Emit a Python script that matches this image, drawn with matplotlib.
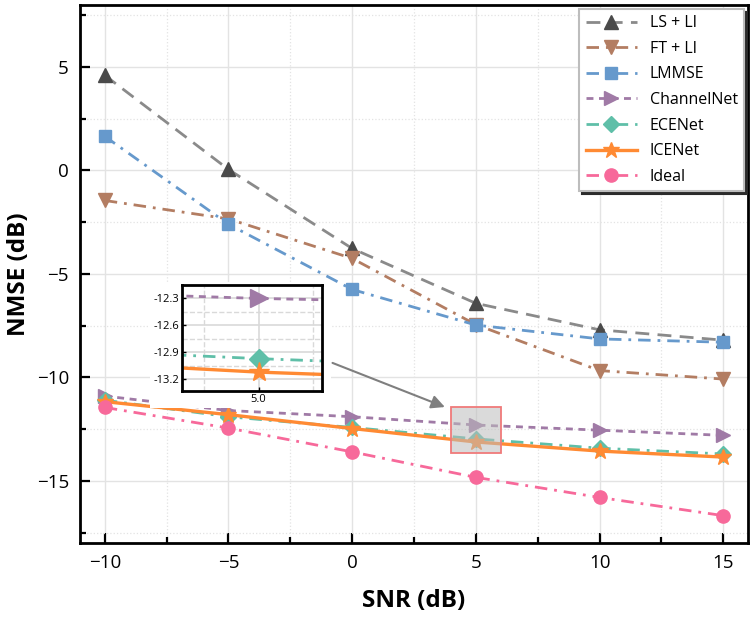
import matplotlib
matplotlib.use("Agg")
import matplotlib.pyplot as plt
from matplotlib.patches import Rectangle
from matplotlib.ticker import MultipleLocator

plt.rcParams['font.family'] = ['Open Sans', 'DejaVu Sans']
plt.rcParams['axes.unicode_minus'] = True

snr = [-10, -5, 0, 5, 10, 15]

ls_li = [4.6, 0.05, -3.77, -6.42, -7.7, -8.2]
ft_li = [-1.45, -2.34, -4.25, -7.45, -9.67, -10.08]
lmmse = [1.65, -2.6, -5.75, -7.47, -8.14, -8.3]
channelnet = [-10.9, -11.6, -11.9, -12.3, -12.55, -12.8]
ecenet = [-11.1, -11.9, -12.42, -12.97, -13.42, -13.7]
icenet = [-11.17, -11.8, -12.47, -13.12, -13.56, -13.85]
ideal = [-11.45, -12.45, -13.6, -14.83, -15.8, -16.68]

labels = ["LS + LI", "FT + LI", "LMMSE", "ChannelNet", "ECENet", "ICENet", "Ideal"]
series = [ls_li, ft_li, lmmse, channelnet, ecenet, icenet, ideal]

# style per curve: line colour, marker colour, marker, markersize, dash pattern, linewidth
styles = [
    ("#8a8a8a", "#4a4a4a", "^", 10, (5, 3), 2.0),
    ("#b37d62", "#b37d62", "v", 10, (4.5, 2.5, 1, 2.5), 2.0),
    ("#6699cc", "#6699cc", "s", 8.5, (4.5, 2.5, 1, 2.5), 2.0),
    ("#a07aa6", "#a07aa6", ">", 10, (2.5, 2), 2.0),
    ("#5fbfa8", "#5fbfa8", "D", 8.5, (4.5, 2.5, 1, 2.5), 2.0),
    ("#ff8a33", "#ff8a33", "*", 12, None, 2.4),
    ("#f7699a", "#f7699a", "o", 9.5, (4.5, 2.5, 1, 2.5), 2.0),
]


def draw_curves(ax, ms_scale=1.0):
    for y, lab, (lc, mc, mk, ms, dash, lw) in zip(series, labels, styles):
        kw = dict(color=lc, marker=mk, markersize=ms * ms_scale, markerfacecolor=mc,
                  markeredgecolor=mc, linewidth=lw, label=lab)
        if dash is None:
            kw['linestyle'] = '-'
        else:
            kw['dashes'] = dash
        ax.plot(snr, y, **kw)


fig = plt.figure(figsize=(7.55, 6.17), dpi=100)
ax = fig.add_axes([0.106, 0.12, 0.8848, 0.872])

draw_curves(ax)

ax.set_xlim(-11, 16)
ax.set_ylim(-18, 8)
ax.xaxis.set_major_locator(MultipleLocator(5))
ax.xaxis.set_minor_locator(MultipleLocator(2.5))
ax.yaxis.set_major_locator(MultipleLocator(5))
ax.yaxis.set_minor_locator(MultipleLocator(2.5))
ax.grid(True, which='major', color='#e3e3e3', linewidth=1.0, linestyle='-')
ax.grid(True, which='minor', color='#e3e3e3', linewidth=0.9, linestyle=':')
ax.set_axisbelow(True)
ax.tick_params(which='major', direction='in', length=7, width=1.6, labelsize=13.5, pad=8)
ax.tick_params(which='minor', direction='in', length=4, width=1.6)
for s in ax.spines.values():
    s.set_linewidth(2)

ax.set_xlabel("SNR (dB)", fontsize=17.5, fontweight='bold', labelpad=12)
ax.set_ylabel("NMSE (dB)", fontsize=17.5, fontweight='bold', labelpad=4)

leg = ax.legend(loc='upper right', fontsize=11.5, handlelength=3.2, borderaxespad=0.25,
                labelspacing=0.6, fancybox=False, framealpha=1,
                shadow={'color': '#2b2b2b', 'alpha': 1.0})
leg.get_frame().set_edgecolor('#bdbdbd')
leg.get_frame().set_linewidth(1.5)
leg.set_zorder(6)

# zoom box and arrow
ax.add_patch(Rectangle((4.0, -13.65), 2.0, 2.2, facecolor='#bdbdbd', alpha=0.55,
                       edgecolor='none', zorder=3.5))
ax.add_patch(Rectangle((4.0, -13.65), 2.0, 2.2, facecolor='none',
                       edgecolor='#f07a7a', linewidth=1.3, zorder=3.6))
ax.annotate("", xy=(3.85, -11.48), xytext=(-0.9, -9.25),
            arrowprops=dict(arrowstyle='-|>', color='#7f7f7f', lw=1.5,
                            mutation_scale=20), zorder=3.6)

# white backing behind the inset (covers its tick labels too)
ax.add_patch(Rectangle((0.105, 0.25), 0.27, 0.235, transform=ax.transAxes,
                       facecolor='white', edgecolor='none', zorder=4.5))

axin = ax.inset_axes([0.1527, 0.2825, 0.2096, 0.197])
axin.set_zorder(5)
draw_curves(axin, ms_scale=1.25)
axin.set_xlim(4.65, 5.29)
axin.set_ylim(-13.33, -12.15)
axin.xaxis.set_major_locator(MultipleLocator(0.5))
axin.xaxis.set_minor_locator(MultipleLocator(0.25))
axin.yaxis.set_major_locator(MultipleLocator(0.3))
axin.yaxis.set_minor_locator(MultipleLocator(0.15))
axin.xaxis.set_major_formatter(matplotlib.ticker.FormatStrFormatter('%.1f'))
axin.yaxis.set_major_formatter(matplotlib.ticker.FormatStrFormatter('%.1f'))
axin.grid(True, which='major', color='#d9d9d9', linewidth=1.2, linestyle='-')
axin.grid(True, which='minor', color='#d9d9d9', linewidth=1.0, linestyle='--')
axin.set_axisbelow(True)
axin.tick_params(which='major', direction='in', length=3, width=1, labelsize=8, pad=2)
axin.tick_params(which='minor', length=0)
for s in axin.spines.values():
    s.set_linewidth(2)

fig.savefig("out.png", dpi=100)
